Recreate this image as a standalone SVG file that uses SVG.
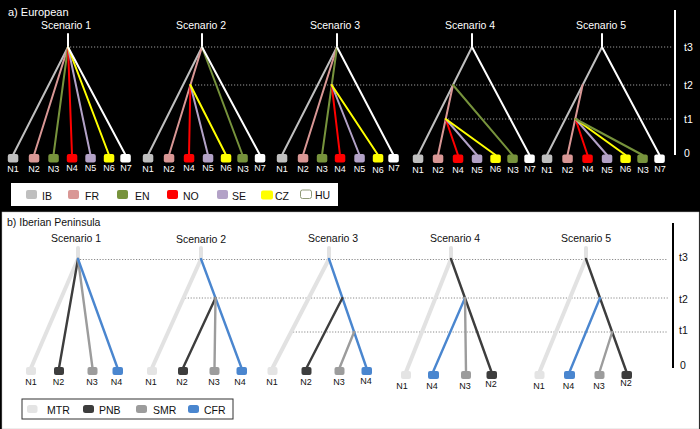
<svg xmlns="http://www.w3.org/2000/svg" width="700" height="429" viewBox="0 0 700 429">
<style>
text{font-family:"Liberation Sans",Arial,sans-serif}
.tw{fill:#fff}
.tb{fill:#111}
.title{font-size:10.5px;text-anchor:middle}
.nl{font-size:9px;text-anchor:middle}
.lg{font-size:10.5px}
.ax{font-size:10.5px}
.dotw{stroke:#9a9a9a;stroke-width:1;stroke-dasharray:1.2 1.8;fill:none}
.dotb{stroke:#8a8a8a;stroke-width:1;stroke-dasharray:1.2 1.6;fill:none}
.e line{stroke-width:2;stroke-linecap:round}
.ib{stroke:#bfbfbf}.fr{stroke:#d99795}.en{stroke:#77933c}.no{stroke:#ff0000}.se{stroke:#b3a2c7}.cz{stroke:#ffff00}.hu{stroke:#ffffff}
.fib{fill:#bfbfbf}.ffr{fill:#d99795}.fen{fill:#77933c}.fno{fill:#ff0000}.fse{fill:#b3a2c7}.fcz{fill:#ffff00}.fhu{fill:#ffffff}
.b line{stroke-width:2.4;stroke-linecap:round}
.mtr{stroke:#e2e2e2;stroke-width:4 !important}.pnb{stroke:#3d3d3d}.smr{stroke:#9c9c9c}.cfr{stroke:#4a86cf}
.fmtr{fill:#e4e4e4}.fpnb{fill:#3d3d3d}.fsmr{fill:#9c9c9c}.fcfr{fill:#4a86cf}
</style>
<rect x="0" y="0" width="700" height="429" fill="#000"/>
<rect x="2" y="212" width="697" height="217" fill="#fff" stroke="#bbb" stroke-width="0.5"/>

<!-- Panel a texts -->
<text class="tw" x="8" y="16" font-size="11">a) European</text>
<g class="tw title">
<text x="66" y="29">Scenario 1</text>
<text x="201" y="29">Scenario 2</text>
<text x="335" y="29">Scenario 3</text>
<text x="470" y="29">Scenario 4</text>
<text x="601" y="29">Scenario 5</text>
</g>

<!-- Panel a gridlines and axis -->
<g id="axis-a">
<line class="dotw" x1="70" y1="47" x2="672" y2="47"/>
<line class="dotw" x1="195" y1="85" x2="672" y2="85"/>
<line class="dotw" x1="448" y1="119" x2="672" y2="119"/>
<line x1="675" y1="10" x2="675" y2="155" stroke="#fff" stroke-width="2"/>
<text class="tw ax" x="684" y="51">t3</text>
<text class="tw ax" x="684" y="89">t2</text>
<text class="tw ax" x="684" y="123">t1</text>
<text class="tw ax" x="684" y="157">0</text>
</g>

<!-- Panel a connectors -->
<g id="connectors-a" class="e">
<!-- S1 -->
<line class="hu" x1="68" y1="34" x2="68" y2="47"/>
<line class="ib" x1="68" y1="47" x2="13" y2="155"/>
<line class="fr" x1="68" y1="47" x2="34" y2="155"/>
<line class="en" x1="68" y1="47" x2="53.5" y2="155"/>
<line class="no" x1="68" y1="47" x2="72" y2="155"/>
<line class="se" x1="68" y1="47" x2="90.5" y2="155"/>
<line class="cz" x1="68" y1="47" x2="109" y2="155"/>
<line class="hu" x1="68" y1="47" x2="125.5" y2="155"/>
<!-- S2 -->
<line class="hu" x1="202" y1="34" x2="202" y2="47"/>
<line class="ib" x1="202" y1="47" x2="148" y2="155"/>
<line class="fr" x1="202" y1="47" x2="169" y2="155"/>
<line class="en" x1="202" y1="47" x2="242.5" y2="155"/>
<line class="hu" x1="202" y1="47" x2="260" y2="155"/>
<line class="no" x1="190.4" y1="85" x2="189" y2="155"/>
<line class="se" x1="190.4" y1="85" x2="208" y2="155"/>
<line class="cz" x1="190.4" y1="85" x2="226" y2="155"/>
<!-- S3 -->
<line class="hu" x1="337" y1="34" x2="337" y2="47"/>
<line class="ib" x1="337" y1="47" x2="282" y2="155"/>
<line class="fr" x1="337" y1="47" x2="303" y2="155"/>
<line class="en" x1="337" y1="47" x2="322" y2="155"/>
<line class="hu" x1="337" y1="47" x2="393.5" y2="155"/>
<line class="no" x1="331.7" y1="85" x2="340" y2="155"/>
<line class="se" x1="331.7" y1="85" x2="359.5" y2="155"/>
<line class="cz" x1="331.7" y1="85" x2="378" y2="155"/>
<!-- S4 -->
<line class="hu" x1="472" y1="34" x2="472" y2="47"/>
<line class="ib" x1="472" y1="47" x2="418" y2="155"/>
<line class="hu" x1="472" y1="47" x2="529.5" y2="155"/>
<line class="fr" x1="453" y1="85" x2="438" y2="155"/>
<line class="en" x1="453" y1="85" x2="512.5" y2="155"/>
<line class="no" x1="445.7" y1="119" x2="458" y2="155"/>
<line class="se" x1="445.7" y1="119" x2="477" y2="155"/>
<line class="cz" x1="445.7" y1="119" x2="495.5" y2="155"/>
<!-- S5 -->
<line class="hu" x1="602" y1="34" x2="602" y2="47"/>
<line class="ib" x1="602" y1="47" x2="547" y2="155"/>
<line class="hu" x1="602" y1="47" x2="659.5" y2="155"/>
<line class="fr" x1="582.6" y1="85" x2="567.5" y2="155"/>
<line class="no" x1="575.5" y1="119" x2="587.5" y2="155"/>
<line class="se" x1="575.5" y1="119" x2="607" y2="155"/>
<line class="cz" x1="575.5" y1="119" x2="625.5" y2="155"/>
<line class="en" x1="575.5" y1="119" x2="642.5" y2="155"/>
</g>

<!-- Panel a nodes -->
<g id="a-s1">
<rect class="fib" x="7.8" y="154" width="10.5" height="8.5" rx="2"/><text class="tw nl" x="13" y="172">N1</text>
<rect class="ffr" x="28.8" y="154" width="10.5" height="8.5" rx="2"/><text class="tw nl" x="34" y="172">N2</text>
<rect class="fen" x="48.3" y="154" width="10.5" height="8.5" rx="2"/><text class="tw nl" x="53.5" y="172">N3</text>
<rect class="fno" x="66.8" y="154" width="10.5" height="8.5" rx="2"/><text class="tw nl" x="72" y="171">N4</text>
<rect class="fse" x="85.3" y="154" width="10.5" height="8.5" rx="2"/><text class="tw nl" x="90.5" y="171">N5</text>
<rect class="fcz" x="103.8" y="154" width="10.5" height="8.5" rx="2"/><text class="tw nl" x="109" y="171">N6</text>
<rect class="fhu" x="120.3" y="154" width="10.5" height="8.5" rx="2"/><text class="tw nl" x="126" y="171">N7</text>
</g>
<g id="a-s2">
<rect class="fib" x="142.8" y="154" width="10.5" height="8.5" rx="2"/><text class="tw nl" x="148" y="172">N1</text>
<rect class="ffr" x="163.8" y="154" width="10.5" height="8.5" rx="2"/><text class="tw nl" x="169" y="172">N2</text>
<rect class="fno" x="183.8" y="154" width="10.5" height="8.5" rx="2"/><text class="tw nl" x="189" y="171">N4</text>
<rect class="fse" x="202.8" y="154" width="10.5" height="8.5" rx="2"/><text class="tw nl" x="208" y="171">N5</text>
<rect class="fcz" x="220.8" y="154" width="10.5" height="8.5" rx="2"/><text class="tw nl" x="226" y="171">N6</text>
<rect class="fen" x="237.3" y="154" width="10.5" height="8.5" rx="2"/><text class="tw nl" x="243" y="172">N3</text>
<rect class="fhu" x="254.8" y="154" width="10.5" height="8.5" rx="2"/><text class="tw nl" x="260" y="171">N7</text>
</g>
<g id="a-s3">
<rect class="fib" x="276.8" y="154" width="10.5" height="8.5" rx="2"/><text class="tw nl" x="282" y="172">N1</text>
<rect class="ffr" x="297.8" y="154" width="10.5" height="8.5" rx="2"/><text class="tw nl" x="303" y="172">N2</text>
<rect class="fen" x="316.8" y="154" width="10.5" height="8.5" rx="2"/><text class="tw nl" x="322" y="172">N3</text>
<rect class="fno" x="334.8" y="154" width="10.5" height="8.5" rx="2"/><text class="tw nl" x="340" y="172">N4</text>
<rect class="fse" x="354.3" y="154" width="10.5" height="8.5" rx="2"/><text class="tw nl" x="359.5" y="172">N5</text>
<rect class="fcz" x="372.8" y="154" width="10.5" height="8.5" rx="2"/><text class="tw nl" x="378" y="173">N6</text>
<rect class="fhu" x="388.3" y="154" width="10.5" height="8.5" rx="2"/><text class="tw nl" x="394" y="171">N7</text>
</g>
<g id="a-s4">
<rect class="fib" x="412.8" y="154.5" width="10.5" height="8.5" rx="2"/><text class="tw nl" x="418" y="173">N1</text>
<rect class="ffr" x="432.8" y="154.5" width="10.5" height="8.5" rx="2"/><text class="tw nl" x="438" y="173">N2</text>
<rect class="fno" x="452.8" y="154.5" width="10.5" height="8.5" rx="2"/><text class="tw nl" x="458" y="173">N4</text>
<rect class="fse" x="471.8" y="154.5" width="10.5" height="8.5" rx="2"/><text class="tw nl" x="477" y="173">N5</text>
<rect class="fcz" x="490.3" y="154.5" width="10.5" height="8.5" rx="2"/><text class="tw nl" x="495.5" y="172">N6</text>
<rect class="fen" x="507.3" y="154.5" width="10.5" height="8.5" rx="2"/><text class="tw nl" x="513" y="173">N3</text>
<rect class="fhu" x="524.3" y="154.5" width="10.5" height="8.5" rx="2"/><text class="tw nl" x="530" y="172">N7</text>
</g>
<g id="a-s5">
<rect class="fib" x="541.8" y="154.5" width="10.5" height="8.5" rx="2"/><text class="tw nl" x="547" y="173">N1</text>
<rect class="ffr" x="562.3" y="154.5" width="10.5" height="8.5" rx="2"/><text class="tw nl" x="567.5" y="173">N2</text>
<rect class="fno" x="582.3" y="154.5" width="10.5" height="8.5" rx="2"/><text class="tw nl" x="588" y="172">N4</text>
<rect class="fse" x="601.8" y="154.5" width="10.5" height="8.5" rx="2"/><text class="tw nl" x="607" y="173">N5</text>
<rect class="fcz" x="620.3" y="154.5" width="10.5" height="8.5" rx="2"/><text class="tw nl" x="625.5" y="172">N6</text>
<rect class="fen" x="637.3" y="154.5" width="10.5" height="8.5" rx="2"/><text class="tw nl" x="643" y="173">N3</text>
<rect class="fhu" x="654.3" y="154.5" width="10.5" height="8.5" rx="2"/><text class="tw nl" x="660" y="172">N7</text>
</g>

<!-- Panel a legend -->
<g id="legend-a">
<rect x="11" y="183" width="327" height="23" fill="#fff"/>
<rect class="fib" x="26" y="190" width="11" height="9" rx="2"/><text class="tb lg" x="42" y="199.5">IB</text>
<rect class="ffr" x="68" y="190" width="11" height="9" rx="2"/><text class="tb lg" x="85" y="199.5">FR</text>
<rect class="fen" x="117" y="190" width="11" height="9" rx="2"/><text class="tb lg" x="135" y="199.5">EN</text>
<rect class="fno" x="167" y="190" width="11" height="9" rx="2"/><text class="tb lg" x="183" y="199.5">NO</text>
<rect class="fse" x="217" y="190" width="11" height="9" rx="2"/><text class="tb lg" x="232" y="199.5">SE</text>
<rect class="fcz" x="261" y="190.5" width="12" height="9" rx="2"/><text class="tb lg" x="275" y="200">CZ</text>
<rect x="300.5" y="190" width="11" height="8.5" rx="2" fill="#fff" stroke="#8f9a78" stroke-width="1"/><text class="tb lg" x="315" y="199">HU</text>
</g>

<!-- Panel b texts -->
<text class="tb" x="7" y="226" font-size="10.5">b) Iberian Peninsula</text>
<g class="tb title">
<text x="76" y="242">Scenario 1</text>
<text x="201" y="243">Scenario 2</text>
<text x="333" y="242">Scenario 3</text>
<text x="455" y="242">Scenario 4</text>
<text x="586" y="242">Scenario 5</text>
</g>

<g id="axis-b">
<line class="dotb" x1="80" y1="259.5" x2="668" y2="259.5"/>
<line class="dotb" x1="185" y1="298" x2="668" y2="298"/>
<line class="dotb" x1="293" y1="332" x2="668" y2="332"/>
<line x1="673" y1="223" x2="673" y2="368" stroke="#000" stroke-width="2"/>
<text class="tb ax" x="679" y="261">t3</text>
<text class="tb ax" x="679" y="303">t2</text>
<text class="tb ax" x="679" y="334">t1</text>
<text class="tb ax" x="680" y="369">0</text>
</g>

<g id="connectors-b" class="b">
<!-- S1 -->
<line class="mtr" x1="78" y1="248" x2="78" y2="259"/>
<line class="mtr" x1="78" y1="259" x2="31" y2="368"/>
<line class="pnb" x1="78" y1="259" x2="59" y2="368"/>
<line class="smr" x1="78" y1="259" x2="92.5" y2="368"/>
<line class="cfr" x1="78" y1="259" x2="117.5" y2="368"/>
<!-- S2 -->
<line class="mtr" x1="201" y1="248" x2="201" y2="259"/>
<line class="mtr" x1="201" y1="259" x2="152" y2="368"/>
<line class="cfr" x1="201" y1="259" x2="241.5" y2="368"/>
<line class="pnb" x1="215.5" y1="298" x2="183" y2="368"/>
<line class="smr" x1="215.5" y1="298" x2="214.5" y2="368"/>
<!-- S3 -->
<line class="mtr" x1="329" y1="248" x2="329" y2="259"/>
<line class="mtr" x1="329" y1="259" x2="272.5" y2="368"/>
<line class="cfr" x1="329" y1="259" x2="366.5" y2="368"/>
<line class="pnb" x1="342.4" y1="298" x2="306.5" y2="368"/>
<line class="smr" x1="354.1" y1="332" x2="339.5" y2="368"/>
<!-- S4 -->
<line class="mtr" x1="451" y1="248" x2="451" y2="259"/>
<line class="mtr" x1="451" y1="259" x2="406" y2="372"/>
<line class="pnb" x1="451" y1="259" x2="491.5" y2="372"/>
<line class="cfr" x1="465" y1="298" x2="433" y2="372"/>
<line class="smr" x1="465" y1="298" x2="466" y2="372"/>
<!-- S5 -->
<line class="mtr" x1="586" y1="248" x2="586" y2="259"/>
<line class="mtr" x1="586" y1="259" x2="539.5" y2="372"/>
<line class="pnb" x1="586" y1="259" x2="626.5" y2="372"/>
<line class="cfr" x1="600" y1="298" x2="569.5" y2="372"/>
<line class="smr" x1="612.2" y1="332" x2="599.5" y2="372"/>
</g>

<g id="b-s1">
<rect class="fmtr" x="26" y="367" width="10" height="8" rx="2"/><text class="tb nl" x="31" y="385">N1</text>
<rect class="fpnb" x="54" y="367" width="10" height="8" rx="2"/><text class="tb nl" x="58.5" y="385">N2</text>
<rect class="fsmr" x="87.5" y="367" width="10" height="8" rx="2"/><text class="tb nl" x="92" y="385">N3</text>
<rect class="fcfr" x="112.5" y="367" width="10.5" height="8" rx="2"/><text class="tb nl" x="116.5" y="385">N4</text>
</g>
<g id="b-s2">
<rect class="fmtr" x="147" y="367" width="10" height="8" rx="2"/><text class="tb nl" x="151" y="385">N1</text>
<rect class="fpnb" x="178" y="367" width="10" height="8" rx="2"/><text class="tb nl" x="182" y="385">N2</text>
<rect class="fsmr" x="209.5" y="367" width="10" height="8" rx="2"/><text class="tb nl" x="214" y="385">N3</text>
<rect class="fcfr" x="236.5" y="367" width="10.5" height="8" rx="2"/><text class="tb nl" x="240" y="385">N4</text>
</g>
<g id="b-s3">
<rect class="fmtr" x="267.5" y="367" width="10" height="8" rx="2"/><text class="tb nl" x="272" y="385">N1</text>
<rect class="fpnb" x="301.5" y="367" width="10" height="8" rx="2"/><text class="tb nl" x="306" y="385">N2</text>
<rect class="fsmr" x="334.5" y="367" width="10" height="8" rx="2"/><text class="tb nl" x="339" y="385">N3</text>
<rect class="fcfr" x="361.5" y="367" width="10.5" height="8" rx="2"/><text class="tb nl" x="366" y="384">N4</text>
</g>
<g id="b-s4">
<rect class="fmtr" x="401" y="371" width="10" height="8" rx="2"/><text class="tb nl" x="402" y="389">N1</text>
<rect class="fcfr" x="428" y="371" width="11" height="8" rx="2"/><text class="tb nl" x="432" y="389">N4</text>
<rect class="fsmr" x="461" y="371" width="10" height="8" rx="2"/><text class="tb nl" x="465" y="389">N3</text>
<rect class="fpnb" x="486.5" y="371" width="10.5" height="8" rx="2"/><text class="tb nl" x="491" y="387">N2</text>
</g>
<g id="b-s5">
<rect class="fmtr" x="534.5" y="371" width="10" height="8" rx="2"/><text class="tb nl" x="539" y="389">N1</text>
<rect class="fcfr" x="564" y="371" width="11" height="8" rx="2"/><text class="tb nl" x="568.5" y="389">N4</text>
<rect class="fsmr" x="594.5" y="371" width="10" height="8" rx="2"/><text class="tb nl" x="599" y="389">N3</text>
<rect class="fpnb" x="621.5" y="371" width="10.5" height="8" rx="2"/><text class="tb nl" x="626" y="386">N2</text>
</g>

<g id="legend-b">
<rect x="22" y="399" width="211" height="20" fill="#fff" stroke="#333" stroke-width="1"/>
<rect class="fmtr" x="27" y="405" width="10.5" height="8" rx="2.5"/><text class="tb lg" x="47" y="413.5">MTR</text>
<rect class="fpnb" x="83" y="405" width="11" height="8" rx="2.5"/><text class="tb lg" x="99" y="413.5">PNB</text>
<rect class="fsmr" x="136" y="405" width="11" height="8" rx="2.5"/><text class="tb lg" x="153" y="413.5">SMR</text>
<rect class="fcfr" x="188" y="405" width="11" height="8" rx="2.5"/><text class="tb lg" x="204" y="413.5">CFR</text>
</g>
</svg>
